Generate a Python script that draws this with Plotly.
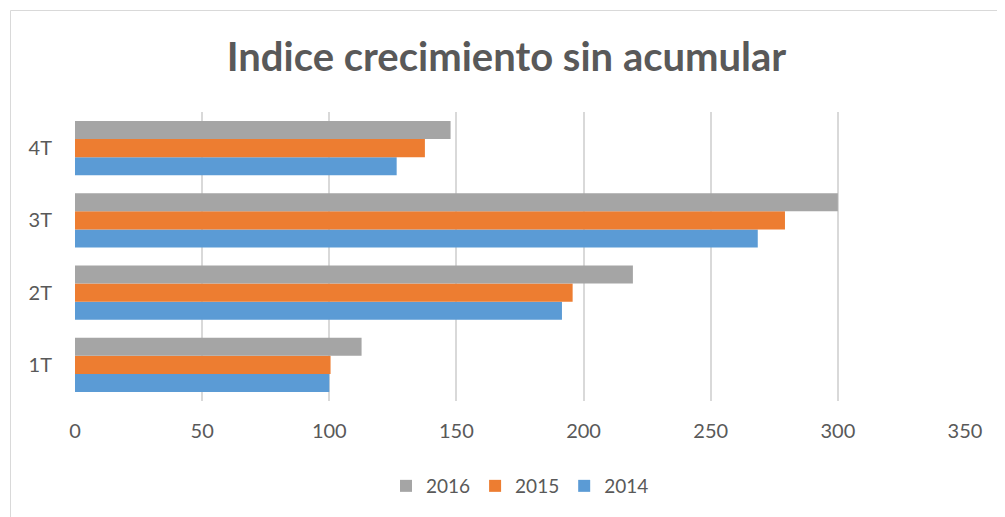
import plotly.graph_objects as go

categories = ["1T", "2T", "3T", "4T"]
v2014 = [100, 191.5, 268.5, 126.5]
v2015 = [100.5, 195.7, 279.2, 137.6]
v2016 = [112.7, 219.4, 300, 147.7]
x_ticks = [0, 50, 100, 150, 200, 250, 300, 350]

W, H = 997, 509
L, R, T, B = 67, 957, 104, 393  # plot area in figure pixels
PW, PH = R - L, B - T

fig = go.Figure()
fig.add_trace(go.Bar(y=categories, x=v2014, name="2014", orientation="h",
                     marker=dict(color="#5B9BD5", line=dict(width=0))))
fig.add_trace(go.Bar(y=categories, x=v2015, name="2015", orientation="h",
                     marker=dict(color="#ED7D31", line=dict(width=0))))
fig.add_trace(go.Bar(y=categories, x=v2016, name="2016", orientation="h",
                     marker=dict(color="#A5A5A5", line=dict(width=0))))

fig.update_layout(
    width=W, height=H,
    paper_bgcolor="white", plot_bgcolor="white",
    margin=dict(l=L, r=W - R, t=T, b=H - B),
    barmode="group", bargap=0.25, bargroupgap=0,
    font=dict(family="Lato, Open Sans, sans-serif", color="#595959", size=20),
    title=dict(text="<b>Indice crecimiento sin acumular</b>", x=0.5, xanchor="center",
               y=1 - 49 / H, yanchor="middle",
               font=dict(size=40, color="#595959", family="Lato, Open Sans, sans-serif")),
    xaxis=dict(range=[0, 350], tickvals=x_ticks, showgrid=True, gridcolor="#D9D9D9",
               gridwidth=1.5, zeroline=False, showline=False, ticks="",
               ticklabelstandoff=16, tickfont=dict(size=20, color="#595959")),
    yaxis=dict(showgrid=False, zeroline=False, showline=False, ticks="",
               ticklabelstandoff=22, tickfont=dict(size=20, color="#595959")),
    legend=dict(orientation="h", x=0.5, xanchor="center", y=-(478 - B) / PH,
                yanchor="middle", traceorder="reversed",
                font=dict(size=19, color="#595959")),
    shapes=[dict(type="rect", xref="paper", yref="paper",
                 x0=(2.5 - L) / PW, x1=(W + 5 - L) / PW,
                 y0=-(H + 5 - B) / PH, y1=(B - 2.5) / PH,
                 line=dict(color="#D9D9D9", width=1), layer="below")],
)

fig.write_html("out.html")
